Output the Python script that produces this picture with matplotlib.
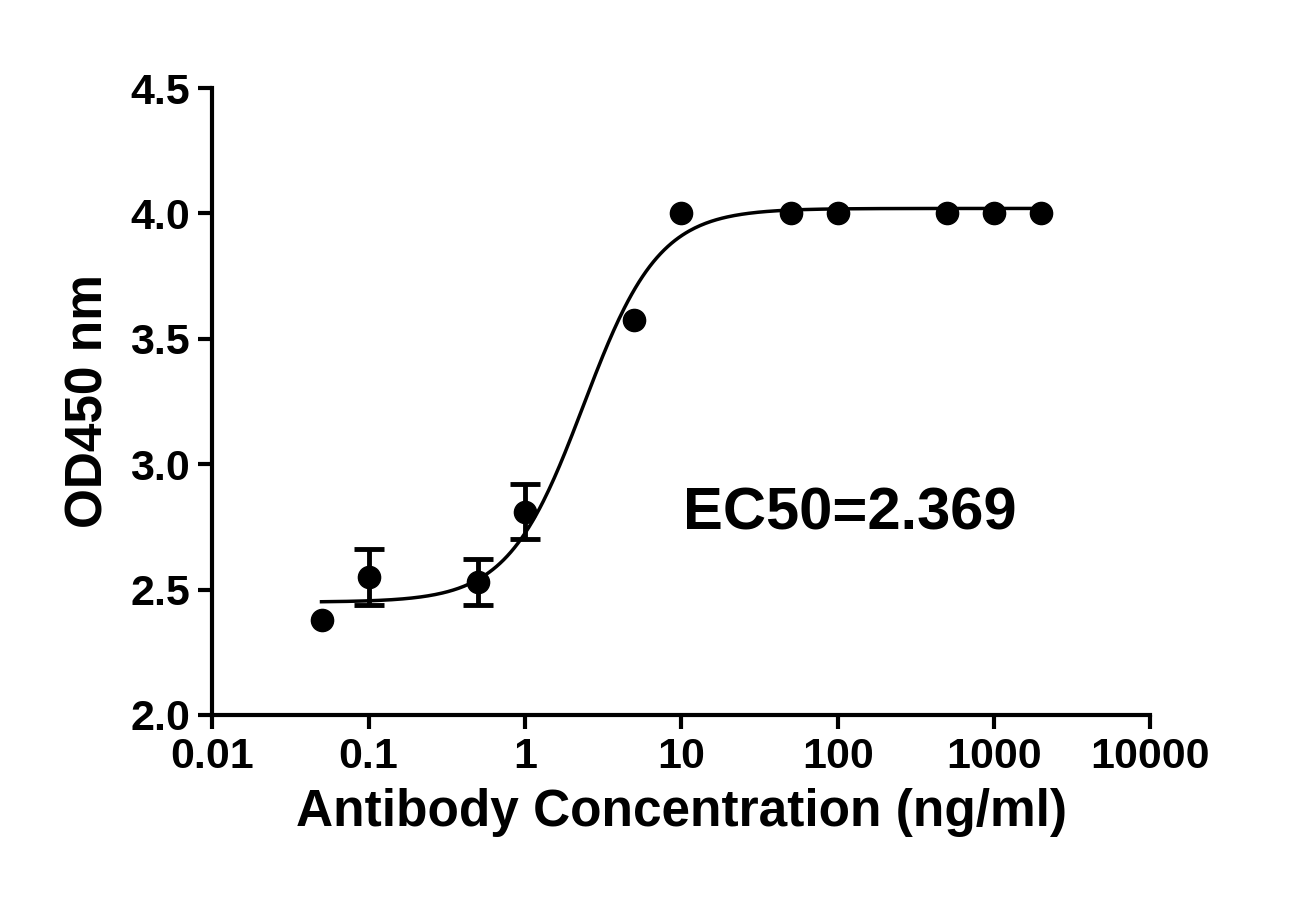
import numpy as np
import matplotlib
matplotlib.use("Agg")
import matplotlib.pyplot as plt

plt.rcParams['font.family'] = 'Liberation Sans'
plt.rcParams['font.weight'] = 'bold'

conc = [0.05, 0.1, 0.5, 1, 5, 10, 50, 100, 500, 1000, 2000]
od = [2.38, 2.55, 2.53, 2.81, 3.575, 4.0, 4.0, 4.0, 4.0, 4.0, 4.0]
err = [0, 0.11, 0.09, 0.11, 0, 0, 0, 0, 0, 0, 0]

# 4PL fit parameters
bottom, top, ec50, hill = 2.45, 4.02, 2.369, 1.8

fig = plt.figure(figsize=(12.94, 9.08), dpi=100)
ax = fig.add_axes([0.164, 0.2126, 0.725, 0.6904])

xs = np.logspace(np.log10(conc[0]), np.log10(conc[-1]), 400)
ys = bottom + (top - bottom) / (1 + (ec50 / xs) ** hill)
ax.plot(xs, ys, color='black', lw=2.5)

# error bars only where there is an error
ex = [c for c, e in zip(conc, err) if e > 0]
ey = [o for o, e in zip(od, err) if e > 0]
ee = [e for e in err if e > 0]
ax.errorbar(ex, ey, yerr=ee, fmt='none', ecolor='black',
            capsize=11, elinewidth=3.5, capthick=3.5)
ax.plot(conc, od, 'o', color='black', ms=16)

ax.set_xscale('log')
ax.set_xlim(0.01, 10000)
ax.set_ylim(2.0, 4.5)
ax.set_xticks([0.01, 0.1, 1, 10, 100, 1000, 10000])
ax.set_xticklabels(['0.01', '0.1', '1', '10', '100', '1000', '10000'])
ax.xaxis.set_minor_locator(matplotlib.ticker.NullLocator())
ax.set_yticks([2.0, 2.5, 3.0, 3.5, 4.0, 4.5])
ax.set_yticklabels(['2.0', '2.5', '3.0', '3.5', '4.0', '4.5'])

for s in ['top', 'right']:
    ax.spines[s].set_visible(False)
for s in ['left', 'bottom']:
    ax.spines[s].set_linewidth(3)
ax.tick_params(width=3, length=10, labelsize=31, direction='out', pad=6)
for lab in ax.get_xticklabels() + ax.get_yticklabels():
    lab.set_fontweight('bold')

ax.set_xlabel('Antibody Concentration (ng/ml)', fontsize=37, fontweight='bold', labelpad=8)
ax.set_ylabel('OD450 nm', fontsize=37, fontweight='bold', labelpad=12)
ax.text(10.3, 2.8, 'EC50=2.369', fontsize=43, fontweight='bold', va='center')

fig.savefig('out.png', dpi=100)
